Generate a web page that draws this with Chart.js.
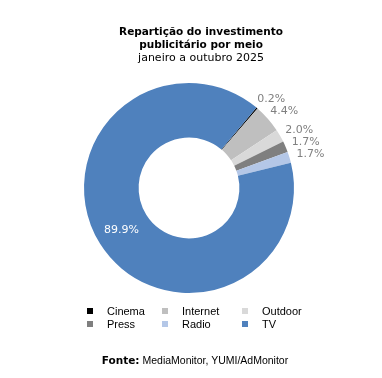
<!DOCTYPE html>
<html>
<head>
<meta charset="utf-8">
<script src="https://cdn.jsdelivr.net/npm/chart.js@4"></script>
<style>
  html, body { margin: 0; padding: 0; background: #fff; }
  #wrap { position: relative; width: 382px; height: 378px; }
  #chart { position: absolute; left: 0; top: 0; }
  #title {
    position: absolute; left: 0; width: 402px; top: 24px; text-align: center;
    font-family: "DejaVu Sans", Verdana, sans-serif; color: #000; line-height: 12px;
  }
  #title b { font-size: 10.5px; }
  #title span { font-size: 11px; }
  #legend {
    position: absolute; left: 87px; top: 305px;
    display: grid; grid-template-columns: 75px 80px 80px;
    font: 11px "Liberation Sans", Arial, sans-serif; color: #000;
  }
  .item { display: flex; align-items: center; height: 12.5px; }
  .box { width: 6px; height: 6px; margin-right: 14px; }
  #source {
    position: absolute; left: 0; width: 390px; top: 354px; text-align: center;
    font: 10.5px "Liberation Sans", Arial, sans-serif; color: #000;
  }
  #source b { font-family: "DejaVu Sans", Verdana, sans-serif; }
</style>
</head>
<body>
<div id="wrap">
  <canvas id="chart" width="382" height="378"></canvas>
  <div id="title"><b>Repartição do investimento<br>publicitário por meio</b><br><span>janeiro a outubro 2025</span></div>
  <div id="legend"></div>
  <div id="source"><b>Fonte:</b> MediaMonitor, YUMI/AdMonitor</div>
</div>
<script>
// dados: repartição por meio (jan–out 2025)
const categories = ['Cinema', 'Internet', 'Outdoor', 'Press', 'Radio', 'TV'];
const shares = [0.2, 4.4, 2.0, 1.7, 1.7, 89.9];
const colors = ['#000000', '#bfbfbf', '#d9d9d9', '#7f7f7f', '#b4c7e7', '#4f81bd'];

const labelFont = '11px "DejaVu Sans", Verdana, sans-serif';

// etiquetas: fatias pequenas fora do anel, a grande dentro
const sliceLabels = {
  id: 'sliceLabels',
  afterDatasetsDraw(chart) {
    const ctx = chart.ctx;
    const meta = chart.getDatasetMeta(0);
    ctx.save();
    ctx.font = labelFont;
    ctx.textAlign = 'center';
    ctx.textBaseline = 'middle';
    meta.data.forEach((arc, i) => {
      const p = arc.getProps(['x', 'y', 'startAngle', 'endAngle', 'innerRadius', 'outerRadius'], true);
      const mid = (p.startAngle + p.endAngle) / 2;
      const text = shares[i].toFixed(1) + '%';
      let rx, ry, color;
      if (shares[i] > 20) {
        rx = ry = (p.innerRadius + p.outerRadius) / 2 + 2;
        color = '#ffffff';
      } else {
        rx = p.outerRadius + 22;
        ry = p.outerRadius + 12;
        color = '#808080';
      }
      ctx.fillStyle = color;
      ctx.fillText(text, p.x + Math.cos(mid) * rx, p.y + Math.sin(mid) * ry);
    });
    ctx.restore();
  }
};

new Chart(document.getElementById('chart'), {
  type: 'doughnut',
  data: {
    labels: categories,
    datasets: [{
      data: shares,
      backgroundColor: colors,
      borderWidth: 0
    }]
  },
  options: {
    responsive: false,
    animation: false,
    rotation: 40,
    cutout: '48%',
    layout: { padding: { left: 40, right: 44, top: 83, bottom: 85 } },
    plugins: {
      legend: { display: false },
      tooltip: { enabled: false },
      title: { display: false }
    }
  },
  plugins: [sliceLabels]
});

const legend = document.getElementById('legend');
categories.forEach((name, i) => {
  legend.innerHTML += `<div class="item"><span class="box" style="background:${colors[i]}"></span>${name}</div>`;
});
</script>
</body>
</html>
